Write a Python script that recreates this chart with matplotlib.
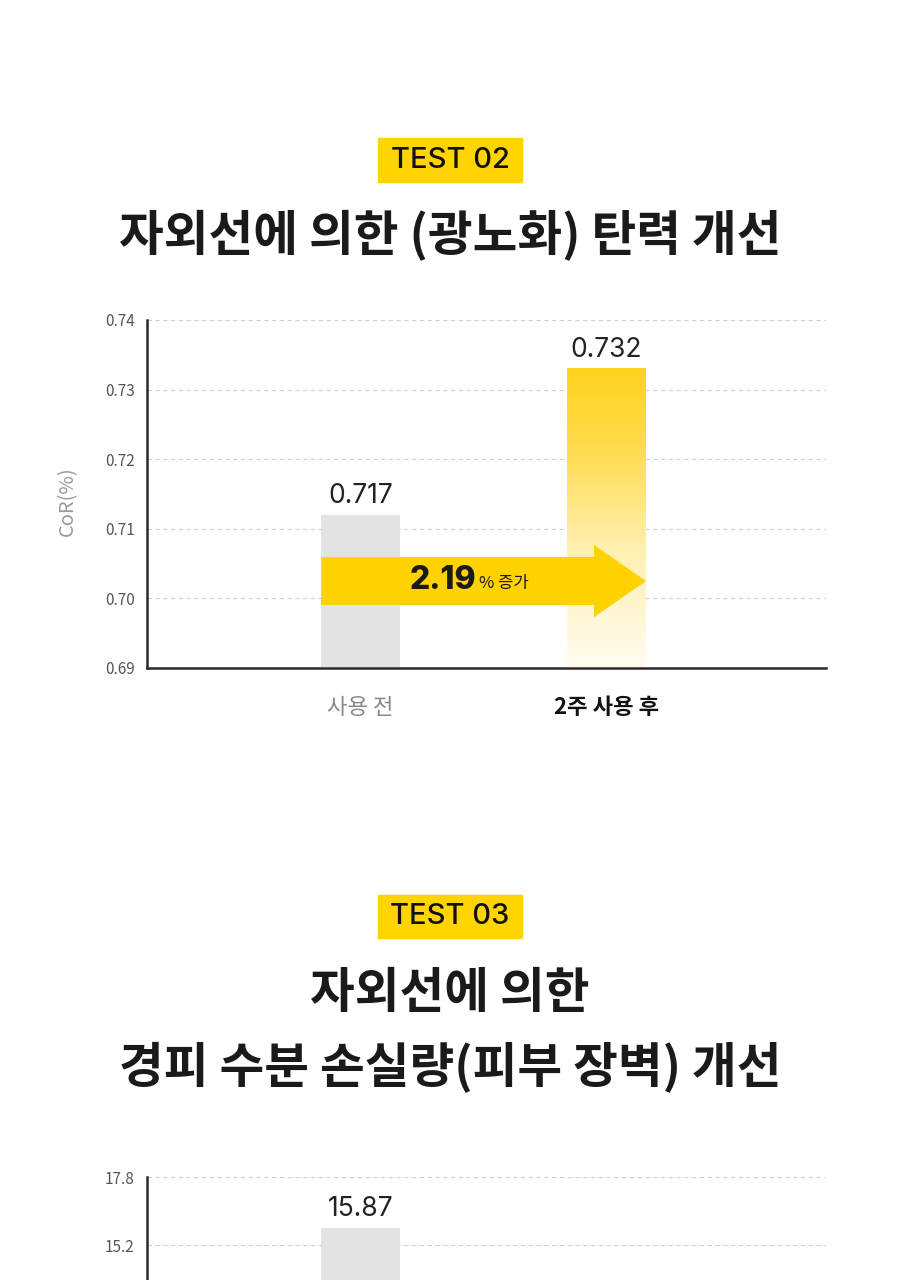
import numpy as np
import matplotlib
matplotlib.use("Agg")
import matplotlib.pyplot as plt
from matplotlib.colors import LinearSegmentedColormap
from matplotlib.patches import Rectangle

plt.rcParams['font.family'] = ['Noto Sans CJK KR', 'DejaVu Sans']

# chart 1 data (TEST 02)
categories1 = ['사용 전', '2주 사용 후']
bar_heights1 = [0.712, 0.733]
value_labels1 = ['0.717', '0.732']
yticks1 = [0.69, 0.70, 0.71, 0.72, 0.73, 0.74]
ytick_labels1 = ['0.69', '0.70', '0.71', '0.72', '0.73', '0.74']
increase1 = '2.19'

# chart 2 data (TEST 03) - only the top part is visible
categories2 = ['사용 전']
bar_heights2 = [15.85]
value_labels2 = ['15.87']
yticks2 = [15.2, 17.8]

YELLOW = '#FFD400'
GRAY_BAR = '#E3E3E3'
W, H = 900, 1280
BAR_W = 0.32

fig = plt.figure(figsize=(9, 12.8), dpi=100)


def fx(px):
    return px / W


def fy(py):
    return 1 - py / H


def badge(text, top, bottom):
    fig.patches.append(Rectangle((fx(378), fy(bottom)), fx(144), (bottom - top) / H,
                                 transform=fig.transFigure, color=YELLOW, zorder=0))
    fig.text(0.5, fy((top + bottom) / 2), text, ha='center', va='center',
             fontsize=21, fontweight='medium', color='#111111',
             family=['Inter', 'DejaVu Sans'])


def style_axes(ax, xlim):
    ax.set_xlim(*xlim)
    for s in ['top', 'right']:
        ax.spines[s].set_visible(False)
    for s in ['left', 'bottom']:
        ax.spines[s].set_linewidth(1.8)
        ax.spines[s].set_color('#2a2a2a')
    ax.grid(axis='y', linestyle=(0, (4, 3)), color='#cfcfcf', linewidth=0.8, zorder=2.5)
    ax.tick_params(axis='y', length=0, pad=9, labelsize=11, labelcolor='#555555')
    ax.tick_params(axis='x', length=0, pad=20, labelsize=16)


xlim = (-0.868, 1.892)

# ---- TEST 02 ----
badge('TEST 02', 138, 182)
fig.text(0.5, fy(236), '자외선에 의한 (광노화) 탄력 개선', ha='center', va='center',
         fontsize=35, fontweight='bold', color='#1a1a1a')

ax1 = fig.add_axes([fx(147), fy(668), fx(679), 348 / H])
x1 = np.arange(len(categories1))
bars = ax1.bar(x1, bar_heights1, width=BAR_W, color=[GRAY_BAR, 'none'], zorder=2)
ax1.set_ylim(0.69, 0.74)
style_axes(ax1, xlim)

# gradient fill for the "after" bar
grad_cmap = LinearSegmentedColormap.from_list(
    'yel', [(0, '#FFFCF0'), (0.4, '#FFEFB0'), (0.75, '#FFDB4A'), (1, '#FFD21C')])
grad = np.linspace(0, 1, 256).reshape(-1, 1)
b = bars[1]
ax1.imshow(grad, cmap=grad_cmap, origin='lower', aspect='auto', zorder=2,
           extent=(b.get_x(), b.get_x() + b.get_width(), 0.69, b.get_height()))
ax1.set_xlim(*xlim)
ax1.set_ylim(0.69, 0.74)

ax1.set_yticks(yticks1)
ax1.set_yticklabels(ytick_labels1)
ax1.set_xticks(x1)
ax1.set_xticklabels(categories1)
xt = ax1.get_xticklabels()
xt[0].set_color('#888888')
xt[1].set_color('#111111')
xt[1].set_fontweight('bold')

ax1.set_ylabel('CoR(%)', fontsize=14.5, color='#999999')
ax1.yaxis.set_label_coords(-0.102, 0.48)

for xi, h, lab in zip(x1, bar_heights1, value_labels1):
    ax1.annotate(lab, (xi, h), xytext=(0, 4), textcoords='offset points',
                 ha='center', va='bottom', fontsize=19, color='#222222',
                 family=['Inter', 'DejaVu Sans'])

# increase arrow from first bar to second bar
x_start = x1[0] - BAR_W / 2
x_end = x1[1] + BAR_W / 2
y_mid = 0.7025
ax1.arrow(x_start, y_mid, x_end - x_start, 0, width=0.0069, head_width=0.0104,
          head_length=0.211, length_includes_head=True, color='#FFD200',
          linewidth=0, zorder=3)
tx = (x_start + x_end) / 2 - 0.03
ax1.text(tx, y_mid, increase1, ha='right', va='center', fontsize=23,
         fontweight='heavy', color='#1a1a1a', zorder=4, family=['Inter', 'DejaVu Sans'])
ax1.text(tx + 0.012, y_mid - 0.0003, '% 증가', ha='left', va='center', fontsize=12,
         color='#1a1a1a', zorder=4)

# ---- TEST 03 ----
badge('TEST 03', 895, 938)
fig.text(0.5, fy(993), '자외선에 의한', ha='center', va='center',
         fontsize=35, fontweight='bold', color='#1a1a1a')
fig.text(0.5, fy(1068), '경피 수분 손실량(피부 장벽) 개선', ha='center', va='center',
         fontsize=35, fontweight='bold', color='#1a1a1a')

# axes runs off the bottom of the image; keep the same scale (2.6 per ~68px)
ax2_top, ax2_bottom = 1177, 1280
ax2 = fig.add_axes([fx(147), fy(ax2_bottom), fx(679), (ax2_bottom - ax2_top) / H])
x2 = np.arange(len(categories2))
ax2.bar(x2, bar_heights2, width=BAR_W, color=GRAY_BAR, zorder=2)
step_px = 68
y_low = yticks2[-1] - (ax2_bottom - ax2_top) / step_px * (yticks2[-1] - yticks2[0])
ax2.set_ylim(y_low, yticks2[-1])
style_axes(ax2, xlim)
ax2.spines['bottom'].set_visible(False)
ax2.set_yticks(yticks2)
ax2.set_yticklabels([f'{v:.1f}' for v in yticks2])
ax2.set_xticks([])
for xi, h, lab in zip(x2, bar_heights2, value_labels2):
    ax2.annotate(lab, (xi, h), xytext=(0, 4), textcoords='offset points',
                 ha='center', va='bottom', fontsize=19, color='#222222',
                 family=['Inter', 'DejaVu Sans'])

fig.savefig('out.png', dpi=100)
